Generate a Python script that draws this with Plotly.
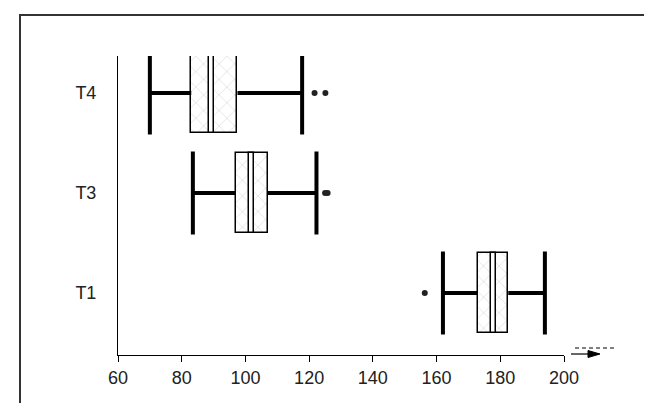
import plotly.graph_objects as go

categories = ["T1", "T3", "T4"]
positions = [0, 1, 2]
lower_whisker = [162, 83.5, 70]
q1 = [173, 97, 83]
median = [178, 102, 89.3]
q3 = [182.5, 107, 97.5]
upper_whisker = [194, 122.3, 117.8]
outliers = {"T1": [156.3], "T3": [125, 125.8], "T4": [121.7, 125.1]}
x_ticks = [60, 80, 100, 120, 140, 160, 180, 200]

W, H = 652, 403
L, R, T, B = 110, 96, 48, 56
PW, PH = W - L - R, H - T - B
HALF = 0.4
MED_HALF = 0.8

def px(xp):
    return (xp - L) / PW

def py(yp):
    return (H - B - yp) / PH

fig = go.Figure()

# boxes with crosshatch
fig.add_trace(go.Bar(
    y=positions, x=[b - a for a, b in zip(q1, q3)], base=q1, orientation="h",
    width=2 * HALF,
    marker=dict(color="white", line=dict(color="black", width=1.5),
                pattern=dict(shape="x", fgcolor="#b8b8b8", bgcolor="white", size=11, solidity=0.12)),
    hoverinfo="skip", showlegend=False))

# median band
fig.add_trace(go.Bar(
    y=positions, x=[2 * MED_HALF] * 3, base=[m - MED_HALF for m in median], orientation="h",
    width=2 * HALF,
    marker=dict(color="white", line=dict(color="black", width=1.5)),
    hoverinfo="skip", showlegend=False))

# whiskers
wx, wy, cx, cy = [], [], [], []
for i, p in enumerate(positions):
    wx += [lower_whisker[i], q1[i], None, q3[i], upper_whisker[i], None]
    wy += [p, p, None, p, p, None]
    cx += [lower_whisker[i], lower_whisker[i], None, upper_whisker[i], upper_whisker[i], None]
    cy += [p - HALF - 0.015, p + HALF + 0.015, None, p - HALF - 0.015, p + HALF + 0.015, None]
fig.add_trace(go.Scatter(x=wx, y=wy, mode="lines", line=dict(color="black", width=4),
                         hoverinfo="skip", showlegend=False))
fig.add_trace(go.Scatter(x=cx, y=cy, mode="lines", line=dict(color="black", width=4),
                         hoverinfo="skip", showlegend=False))

# outliers
ox, oy = [], []
for name, p in zip(categories, positions):
    for v in outliers[name]:
        ox.append(v)
        oy.append(p)
fig.add_trace(go.Scatter(x=ox, y=oy, mode="markers",
                         marker=dict(color="#222", size=6, symbol="circle"),
                         hoverinfo="skip", showlegend=False))

shapes = []
# outer frame (open at the bottom)
shapes.append(dict(type="path", xref="paper", yref="paper",
                   path=f"M {px(12)},{py(410)} L {px(12)},{py(7)} L {px(649)},{py(7)} L {px(649)},{py(410)}",
                   line=dict(color="#333", width=2)))
# small arrow glyph at the end of the x axis
shapes.append(dict(type="line", xref="paper", yref="paper", x0=px(567), x1=px(607), y0=py(340), y1=py(340),
                   line=dict(color="black", width=1.2, dash="4px,3px")))
shapes.append(dict(type="line", xref="paper", yref="paper", x0=px(563), x1=px(590), y0=py(346), y1=py(346),
                   line=dict(color="black", width=1.2)))
shapes.append(dict(type="path", xref="paper", yref="paper",
                   path=f"M {px(580)},{py(342.5)} L {px(592)},{py(346)} L {px(580)},{py(349.5)} Z",
                   fillcolor="black", line=dict(color="black", width=1)))

fig.update_layout(
    width=W, height=H,
    margin=dict(l=L, r=R, t=T, b=B),
    paper_bgcolor="white", plot_bgcolor="white",
    barmode="overlay", bargap=0,
    font=dict(family="Liberation Sans, Arial, sans-serif", size=18, color="#222"),
    shapes=shapes,
    xaxis=dict(range=[60, 200], tickvals=x_ticks, ticktext=[str(t) for t in x_ticks],
               showgrid=False, zeroline=False, showline=True, linecolor="black", linewidth=1,
               ticks="outside", ticklen=6, tickcolor="black", tickwidth=1),
    yaxis=dict(range=[-0.62, 2.37], tickvals=positions, ticktext=categories,
               showgrid=False, zeroline=False, showline=True, linecolor="black", linewidth=1,
               ticks="", ticklabelstandoff=17),
)

fig.write_html("out.html")
